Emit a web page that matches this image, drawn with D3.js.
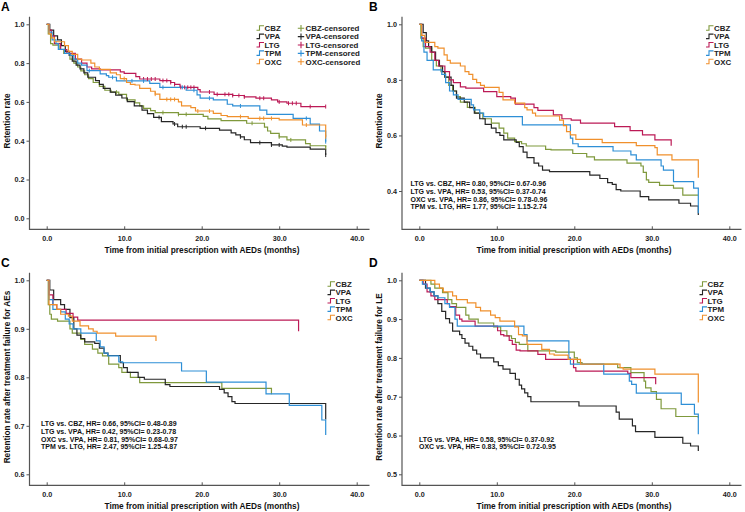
<!DOCTYPE html>
<html><head><meta charset="utf-8">
<script src="https://cdn.jsdelivr.net/npm/d3@7/dist/d3.min.js"></script>
<style>
html,body{margin:0;padding:0;background:#fff;}
svg{display:block;font-family:"Liberation Sans",Arial,sans-serif;font-weight:bold;}
</style></head>
<body>
<svg id="chart" width="745" height="512"></svg>
<script>
// ---------- DATA ----------
const drugs = ["CBZ","VPA","LTG","TPM","OXC"];
const xTicks = [0,10,20,30,40];
const yTicksA = [0,0.2,0.4,0.6,0.8,1.0];
const yTicksB = [0.4,0.6,0.8,1.0];
const yTicksC = [0.6,0.7,0.8,0.9,1.0];
const yTicksD = [0.5,0.6,0.7,0.8,0.9,1.0];
const xTitle = "Time from initial prescription with AEDs (months)";
const yTitles = ["Retention rate","Retention rate","Retention rate after treatment failure for AEs","Retention rate after treatment failure for LE"];
const panelLetters = ["A","B","C","D"];
const hrB = ["LTG vs. CBZ, HR= 0.80, 95%CI= 0.67-0.96","LTG vs. VPA, HR= 0.53, 95%CI= 0.37-0.74","OXC vs. VPA, HR= 0.86, 95%CI= 0.78-0.96","TPM vs. LTG, HR= 1.77, 95%CI= 1.15-2.74"];
const hrC = ["LTG vs. CBZ, HR= 0.66, 95%CI= 0.48-0.89","LTG vs. VPA, HR= 0.42, 95%CI= 0.23-0.78","OXC vs. VPA, HR= 0.81, 95%CI= 0.68-0.97","TPM vs. LTG, HR= 2.47, 95%CI= 1.25-4.87"];
const hrD = ["LTG vs. VPA, HR= 0.58, 95%CI= 0.37-0.92","OXC vs. VPA, HR= 0.83, 95%CI= 0.72-0.95"];

// step data: [time, value after time]
const A_CBZ = [[0,1],[0.2,0.95],[0.5,0.9],[0.8,0.893],[1.6,0.87],[2.2,0.85],[3,0.82],[3.5,0.8],[4,0.78],[4.4,0.76],[4.9,0.74],[5.4,0.72],[6,0.7],[6.8,0.68],[7.5,0.66],[8.3,0.65],[9.3,0.639],[10.3,0.61],[11.4,0.595],[12,0.58],[12.5,0.567],[13.4,0.555],[14,0.545],[17,0.536],[20.2,0.525],[20.8,0.512],[22.5,0.503],[25.8,0.49],[28.1,0.47],[28.5,0.45],[28.9,0.438],[30,0.42],[31,0.404],[33.4,0.385],[34,0.374],[36,0.365]];
const A_VPA = [[0,1],[0.4,0.97],[0.9,0.94],[1.4,0.92],[1.9,0.89],[2.4,0.86],[2.9,0.84],[3.3,0.81],[3.8,0.79],[4.3,0.77],[4.8,0.75],[5.3,0.727],[6.3,0.71],[6.8,0.69],[7.3,0.67],[8.2,0.65],[8.9,0.635],[9.7,0.62],[10.4,0.601],[11.3,0.58],[12.3,0.558],[13,0.54],[13.8,0.52],[14.8,0.498],[16.3,0.486],[16.9,0.472],[19.8,0.464],[22.3,0.455],[23.8,0.44],[24.4,0.43],[25,0.42],[25.5,0.405],[26.3,0.39],[29,0.378],[30.4,0.372],[31,0.367],[34,0.357],[36,0.326]];
const A_LTG = [[0,1],[0.3,0.97],[0.6,0.94],[1,0.9],[1.8,0.87],[2.6,0.85],[3.7,0.82],[4.5,0.8],[5.2,0.78],[5.8,0.77],[6.9,0.765],[9.5,0.755],[10,0.747],[11.5,0.73],[12,0.718],[14.6,0.71],[16,0.7],[16.5,0.69],[17.2,0.675],[19.5,0.663],[19.8,0.651],[21.6,0.639],[24,0.633],[25.5,0.626],[27,0.619],[29,0.61],[29.8,0.6],[31,0.593],[32.8,0.576],[36,0.576]];
const A_TPM = [[0,1],[0.3,0.96],[0.7,0.92],[1.2,0.9],[1.5,0.871],[2.3,0.85],[3,0.84],[3.5,0.82],[4,0.8],[4.5,0.79],[5.2,0.761],[6.9,0.744],[7.7,0.735],[8,0.727],[9,0.708],[13.3,0.696],[14.6,0.675],[18,0.66],[19.4,0.636],[19.8,0.619],[21.5,0.61],[23.3,0.588],[24,0.579],[27.5,0.558],[28.4,0.536],[31.8,0.515],[34,0.485],[35.2,0.45],[36,0.395]];
const A_OXC = [[0,1],[0.3,0.95],[0.6,0.93],[1,0.91],[2.3,0.89],[2.8,0.86],[3.3,0.845],[4,0.82],[4.5,0.816],[5.7,0.8],[6.2,0.78],[6.8,0.768],[8.2,0.75],[9,0.74],[9.5,0.72],[10.3,0.7],[10.8,0.69],[11.4,0.687],[12,0.67],[13.4,0.655],[14,0.64],[14.6,0.613],[17,0.6],[17.4,0.58],[18.6,0.57],[19.2,0.553],[21.5,0.541],[22.5,0.53],[23.3,0.524],[26,0.515],[30,0.507],[33,0.481],[36,0.42]];
// censored times (panel A)
const A_CBZ_cens = [9,15,17,18,26.5,30,31.5,36];
const A_VPA_cens = [14.5,16.5,17.5,18,20.5,25,27.5,29,30,36];
const A_LTG_cens = [12.5,13,13.5,14,15,15.5,16,16.5,17.3,17.8,18.2,18.6,19,21,22,23,23.5,24,24.8,25.5,27.5,28,30,31.2,31.7,32.2,34,36];
const A_TPM_cens = [5.5,8.5,11,12.5,15,17.5,19,21,25,33.5,36];
const A_OXC_cens = [10,14,15.5,16,16.5,19.5,21,25,27.5,28,29,33.5,36];

const B_CBZ = [[0,1],[0.2,0.95],[0.5,0.92],[0.8,0.914],[1.6,0.87],[2.2,0.85],[2.8,0.83],[3.3,0.81],[3.8,0.78],[4.3,0.76],[4.8,0.74],[5.3,0.72],[6.2,0.701],[7.2,0.68],[8.2,0.66],[9.3,0.644],[10.3,0.626],[10.9,0.608],[11.4,0.59],[12.3,0.578],[13.2,0.57],[13.8,0.562],[16.3,0.55],[17,0.548],[19.8,0.535],[21.6,0.523],[22.6,0.512],[26.8,0.5],[28.6,0.49],[28.9,0.467],[29.3,0.44],[29.6,0.431],[31,0.42],[32.8,0.41],[34,0.385],[36,0.385]];
const B_VPA = [[0,1],[0.5,0.97],[0.9,0.94],[1.2,0.92],[1.6,0.9],[2.1,0.87],[2.6,0.85],[3,0.83],[3.3,0.81],[4.1,0.78],[4.4,0.76],[4.8,0.734],[5.8,0.72],[6.5,0.7],[7.1,0.68],[7.8,0.66],[8.5,0.64],[9.3,0.626],[9.9,0.61],[10.4,0.6],[10.9,0.584],[12.5,0.575],[12.9,0.56],[13.4,0.54],[13.9,0.52],[14.8,0.5],[15.4,0.49],[15.9,0.475],[16.8,0.47],[22,0.457],[23.3,0.445],[24.3,0.43],[24.9,0.424],[25.4,0.405],[26,0.4],[28.5,0.38],[29.6,0.368],[33.5,0.356],[35,0.346],[36,0.314]];
const B_LTG = [[0,1],[0.3,0.95],[0.8,0.92],[1.4,0.9],[2,0.87],[2.5,0.85],[3.3,0.83],[3.9,0.8],[4.4,0.79],[5.3,0.775],[6,0.77],[8.3,0.758],[10,0.74],[11.8,0.734],[12.4,0.713],[14.8,0.7],[15.3,0.69],[17.3,0.674],[18.4,0.66],[19.6,0.655],[20.8,0.644],[25.2,0.632],[27.2,0.617],[28.8,0.602],[30.4,0.584],[32.5,0.563]];
const B_TPM = [[0,1],[0.3,0.94],[0.6,0.9],[1,0.87],[1.8,0.836],[2.9,0.82],[3.4,0.79],[3.9,0.76],[4.4,0.746],[5,0.73],[6.7,0.71],[7,0.692],[7.8,0.68],[8.3,0.668],[13.3,0.638],[19.5,0.59],[19.8,0.57],[20.5,0.56],[25,0.544],[27.3,0.53],[28,0.512],[31.2,0.49],[31.5,0.475],[32.8,0.434],[35.4,0.41],[36,0.32]];
const B_OXC = [[0,1],[0.3,0.96],[0.7,0.935],[2,0.92],[2.4,0.914],[3.2,0.89],[3.6,0.87],[4,0.86],[5.3,0.85],[5.9,0.83],[6.4,0.82],[6.9,0.802],[7.4,0.79],[7.9,0.78],[8.4,0.773],[10.3,0.755],[10.8,0.728],[12.3,0.716],[13.6,0.7],[13.9,0.692],[14.6,0.68],[15,0.67],[18.1,0.655],[18.6,0.635],[19,0.614],[19.5,0.602],[20.2,0.586],[23.6,0.574],[28,0.563],[30.4,0.556],[30.7,0.53],[32.6,0.512],[36,0.448]];

const C_CBZ = [[0,1],[0.2,0.95],[0.4,0.93],[0.6,0.92],[1.4,0.916],[3,0.9],[3.3,0.891],[4.4,0.878],[4.9,0.868],[5.9,0.858],[6.6,0.85],[7.2,0.844],[8,0.827],[9.3,0.82],[9.7,0.81],[10.8,0.8],[12,0.789],[22.6,0.777],[29,0.765]];
const C_VPA = [[0,1],[0.4,0.98],[0.9,0.96],[1.8,0.95],[2.3,0.94],[3,0.923],[3.5,0.9],[3.9,0.887],[4.4,0.88],[4.9,0.873],[6.2,0.87],[6.8,0.86],[7.4,0.85],[7.9,0.845],[9.5,0.83],[9.9,0.82],[10.4,0.81],[11.8,0.8],[12.6,0.796],[15.3,0.785],[15.9,0.781],[22.3,0.775],[22.9,0.768],[23.4,0.76],[23.9,0.75],[24.3,0.746],[36,0.713]];
const C_LTG = [[0,1],[0.3,0.97],[0.8,0.95],[1.3,0.94],[2.5,0.932],[3.4,0.924],[4,0.918],[32.5,0.895]];
const C_TPM = [[0,1],[0.3,0.96],[0.8,0.94],[1.8,0.935],[2.4,0.92],[2.9,0.91],[3.4,0.9],[4.4,0.891],[6.4,0.875],[6.9,0.863],[7.4,0.85],[7.9,0.844],[9.3,0.832],[9.8,0.83],[17.4,0.813],[20.6,0.79],[28.3,0.766],[31.3,0.742],[35.5,0.712],[36,0.681]];
const C_OXC = [[0,1],[0.3,0.95],[1.3,0.94],[1.8,0.93],[2.8,0.926],[3.3,0.916],[4.3,0.906],[5.4,0.9],[6,0.895],[6.5,0.891],[8.9,0.885],[14.1,0.875]];

const D_CBZ = [[0,1],[1.5,0.99],[2,0.98],[3,0.968],[3.7,0.95],[4.2,0.94],[4.8,0.93],[6,0.91],[6.4,0.9],[7.6,0.89],[9.6,0.88],[10.5,0.87],[11.3,0.857],[11.9,0.85],[12.4,0.84],[12.9,0.835],[14,0.818],[17.6,0.815],[20,0.8],[20.4,0.788],[21,0.784],[25.6,0.775],[27.3,0.762],[29,0.74],[29.2,0.723],[29.9,0.713],[30.6,0.693],[31.2,0.669],[33.1,0.649],[36,0.645]];
const D_VPA = [[0,1],[0.8,0.98],[1.4,0.97],[1.9,0.96],[2.4,0.94],[2.9,0.92],[3.4,0.901],[3.9,0.89],[4.3,0.869],[5.2,0.86],[5.5,0.85],[5.9,0.838],[6.4,0.83],[6.9,0.82],[7.4,0.81],[7.9,0.8],[9.6,0.79],[10.2,0.78],[10.8,0.771],[11.7,0.76],[12.4,0.745],[12.9,0.73],[13.2,0.72],[13.6,0.71],[14,0.7],[14.4,0.687],[20.6,0.676],[25.4,0.66],[25.8,0.642],[27.5,0.625],[27.9,0.61],[30.4,0.595],[34,0.58],[35,0.573],[36,0.56]];
const D_LTG = [[0,1],[0.5,0.99],[1,0.97],[1.5,0.96],[2,0.95],[3.6,0.94],[3.9,0.932],[4.7,0.91],[5.2,0.9],[5.5,0.895],[7.2,0.882],[10.1,0.87],[10.5,0.86],[10.9,0.857],[11.6,0.845],[12,0.835],[12.5,0.82],[13,0.818],[15.3,0.809],[16.3,0.796],[19.9,0.775],[20.2,0.766],[26.9,0.76],[27.3,0.749],[30.5,0.732]];
const D_TPM = [[0,1],[0.4,0.99],[0.9,0.98],[1.4,0.97],[1.9,0.96],[2.4,0.955],[3.3,0.94],[3.9,0.93],[4.6,0.9],[4.9,0.882],[13.5,0.86],[13.9,0.844],[19.3,0.8],[19.5,0.784],[23.8,0.758],[27.1,0.74],[27.4,0.732],[28,0.709],[33.8,0.68],[35.5,0.655],[36,0.603]];
const D_OXC = [[0,1],[2,0.99],[2.6,0.98],[3.1,0.97],[4.3,0.96],[4.8,0.95],[6.2,0.942],[7.3,0.93],[7.9,0.921],[9.2,0.91],[9.8,0.904],[10.4,0.895],[12.3,0.88],[12.8,0.86],[13.3,0.857],[13.9,0.835],[15.8,0.822],[16.8,0.81],[17.4,0.807],[19.2,0.796],[20.8,0.784],[25.9,0.775],[26.3,0.771],[30.4,0.758],[36,0.685]];

// ---------- STYLE / LAYOUT ----------
const colors = {CBZ:"#7f993c", VPA:"#262626", LTG:"#bc1a56", TPM:"#2e8fd6", OXC:"#f0902c"};
const axisColor = "#555";

const panels = [
  {ox:0,   oy:0,   ticks:yTicksA, yRef:[0,218.3,1,24.3], series:[A_CBZ,A_VPA,A_LTG,A_TPM,A_OXC], cens:[A_CBZ_cens,A_VPA_cens,A_LTG_cens,A_TPM_cens,A_OXC_cens], hr:[], hrPos:null, legend:{x:256.5,y:28.3,two:true}},
  {ox:372, oy:0,   ticks:yTicksB, yRef:[0.4,191,1,24.3], series:[B_CBZ,B_VPA,B_LTG,B_TPM,B_OXC], cens:null, hr:hrB, hrPos:[410.5,186,7.8], legend:{x:706,y:28.3,two:false}},
  {ox:0,   oy:256, ticks:yTicksC, yRef:[0.6,474.3,1,280.3], series:[C_CBZ,C_VPA,C_LTG,C_TPM,C_OXC], cens:null, hr:hrC, hrPos:[41,426,7.8], legend:{x:327.5,y:284.3,two:false}},
  {ox:372, oy:256, ticks:yTicksD, yRef:[0.5,474.3,1,280.3], series:[D_CBZ,D_VPA,D_LTG,D_TPM,D_OXC], cens:null, hr:hrD, hrPos:[419,441.5,7.8], legend:{x:699.5,y:284.3,two:false}}
];

const svg = d3.select("#chart");
const fmt = d3.format(".1f");

function stepValue(data, t){
  let v = data[0][1];
  for (const d of data){ if (d[0] <= t) v = d[1]; else break; }
  return v;
}

panels.forEach((p, i) => {
  const g = svg.append("g");
  const xOff = (i % 2 === 0) ? 46.7 : 47.3;
  const x = d3.scaleLinear().domain([0,40]).range([p.ox + xOff, p.ox + xOff + 310]);
  const y = d3.scaleLinear().domain([p.yRef[0], p.yRef[2]]).range([p.yRef[1], p.yRef[3]]);
  const axX = p.ox + 29.5 + (i % 2 === 0 ? 0 : 0.5);
  const axTop = p.oy + 16.7, axBot = p.oy + 229.3;
  const axRight = p.ox + 369.5;

  // y axis
  const ya = g.append("g").attr("transform", `translate(${axX},0)`)
    .call(d3.axisLeft(y).tickValues(p.ticks).tickFormat(fmt).tickSize(3).tickPadding(2));
  ya.select(".domain").remove();
  ya.selectAll("line").attr("stroke", axisColor);
  ya.selectAll("text").attr("font-size", 7.2).attr("font-weight","bold").attr("fill","#222").attr("font-family","Liberation Sans, Arial, sans-serif");

  // x axis
  const xa = g.append("g").attr("transform", `translate(0,${axBot})`)
    .call(d3.axisBottom(x).tickValues(xTicks).tickFormat(fmt).tickSizeInner(-3).tickSizeOuter(0).tickPadding(6.5));
  xa.select(".domain").remove();
  xa.selectAll("line").attr("stroke", axisColor);
  xa.selectAll("text").attr("font-size", 7.2).attr("font-weight","bold").attr("fill","#222").attr("font-family","Liberation Sans, Arial, sans-serif");

  // axis lines
  g.append("path").attr("d", `M${axX},${axTop}V${axBot}H${axRight}`)
    .attr("fill","none").attr("stroke", axisColor).attr("stroke-width",1.2);

  // curves
  const line = d3.line().x(d => x(d[0])).y(d => y(d[1])).curve(d3.curveStepAfter);
  p.series.forEach((s, k) => {
    g.append("path").attr("d", line(s)).attr("fill","none")
      .attr("stroke", colors[drugs[k]]).attr("stroke-width", 1.2);
  });
  // censor marks
  if (p.cens){
    p.cens.forEach((c, k) => {
      const s = p.series[k];
      g.selectAll(null).data(c).join("line")
        .attr("x1", t => x(t)).attr("x2", t => x(t))
        .attr("y1", t => y(stepValue(s, t)) - 2).attr("y2", t => y(stepValue(s, t)) + 2)
        .attr("stroke", colors[drugs[k]]).attr("stroke-width", 1);
    });
  }

  // legend
  const L = p.legend, rowH = 8.35;
  drugs.forEach((d, k) => {
    const ly = L.y + k*rowH;
    g.append("path").attr("d", `M${L.x},${ly+2}h3v-4.5h4.5`).attr("fill","none")
      .attr("stroke", colors[d]).attr("stroke-width",1.1);
    g.append("text").attr("x", L.x + 8).attr("y", ly + 2.8).text(d)
      .attr("font-size", 7.9).attr("fill","#222");
    if (L.two){
      const cx = L.x + 44.5;
      g.append("path").attr("d", `M${cx-3.2},${ly}h6.4M${cx},${ly-3.2}v6.4`)
        .attr("stroke", colors[d]).attr("stroke-width",1.1);
      g.append("text").attr("x", cx + 4.5).attr("y", ly + 2.8).text(d + "-censored")
        .attr("font-size", 7.9).attr("fill","#222");
    }
  });

  // HR text
  if (p.hrPos){
    p.hr.forEach((t, k) => {
      g.append("text").attr("x", p.hrPos[0]).attr("y", p.hrPos[1] + k*p.hrPos[2])
        .text(t).attr("font-size", 7.0).attr("fill","#111");
    });
  }

  // titles
  g.append("text").attr("x", p.ox + 202).attr("y", p.oy + 252.5).attr("text-anchor","middle")
    .text(xTitle).attr("font-size", 8.3).attr("fill","#111");
  const cy = p.oy + 121;
  g.append("text").attr("transform", `translate(${p.ox + 9.5},${cy}) rotate(-90)`)
    .attr("text-anchor","middle").text(yTitles[i]).attr("font-size", 8.2).attr("fill","#111");

  // panel letter
  g.append("text").attr("x", p.ox + (i%2===0 ? 1 : -3)).attr("y", p.oy + 10.5).text(panelLetters[i])
    .attr("font-size", 12).attr("fill","#000");
});
</script>
</body></html>
